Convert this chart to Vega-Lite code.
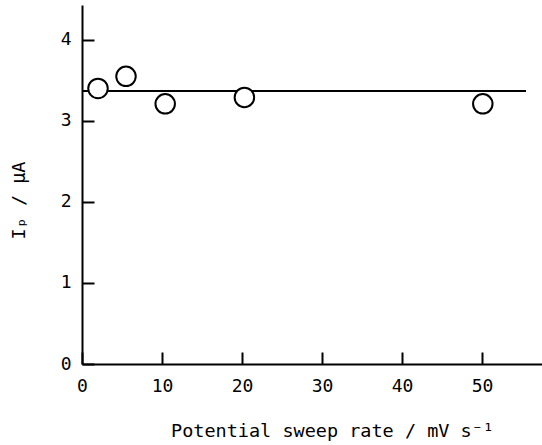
{
  "$schema": "https://vega.github.io/schema/vega-lite/v6.json",
  "width": 460,
  "height": 359,
  "autosize": {"type": "none"},
  "padding": {"left": 82, "top": 5, "right": 0, "bottom": 81},
  "background": "white",
  "config": {
    "view": {"stroke": null},
    "font": "DejaVu Sans Mono",
    "axis": {
      "grid": false,
      "domainColor": "black",
      "domainWidth": 2,
      "tickColor": "black",
      "tickWidth": 2,
      "tickSize": -12,
      "labelFlush": false,
      "labelFont": "DejaVu Sans Mono",
      "labelFontSize": 18,
      "labelColor": "black",
      "titleFont": "DejaVu Sans Mono",
      "titleFontSize": 18.5,
      "titleFontWeight": "normal",
      "titleColor": "black"
    }
  },
  "datasets": {
    "pts": [
      {"rate": 2.0, "ip": 3.40},
      {"rate": 5.5, "ip": 3.55},
      {"rate": 10.4, "ip": 3.21},
      {"rate": 20.3, "ip": 3.29},
      {"rate": 50.1, "ip": 3.21}
    ],
    "fit": [
      {"x1": 0, "x2": 55.5, "ip": 3.37}
    ]
  },
  "layer": [
    {
      "data": {"name": "fit"},
      "mark": {"type": "rule", "color": "black", "strokeWidth": 2},
      "encoding": {
        "x": {"field": "x1", "type": "quantitative", "scale": {"domain": [0, 57.5], "nice": false, "zero": false},
          "axis": {"values": [0, 10, 20, 30, 40, 50], "format": "d", "labelPadding": 25,
            "title": "Potential sweep rate / mV s⁻¹", "titleX": 250, "titleY": 66, "titleBaseline": "middle"}},
        "x2": {"field": "x2"},
        "y": {"field": "ip", "type": "quantitative", "scale": {"domain": [0, 4.43], "nice": false},
          "axis": {"values": [0, 1, 2, 3, 4], "format": "d", "labelPadding": 23,
            "title": "Iₚ / μA", "titleX": -64, "titleY": 195, "titleBaseline": "middle", "titleAngle": -90}}
      }
    },
    {
      "data": {"name": "pts"},
      "mark": {"type": "point", "shape": "circle", "filled": false, "fill": "white", "fillOpacity": 1, "stroke": "black", "strokeWidth": 2, "opacity": 1, "size": 380},
      "encoding": {
        "x": {"field": "rate", "type": "quantitative"},
        "y": {"field": "ip", "type": "quantitative"}
      }
    }
  ]
}
